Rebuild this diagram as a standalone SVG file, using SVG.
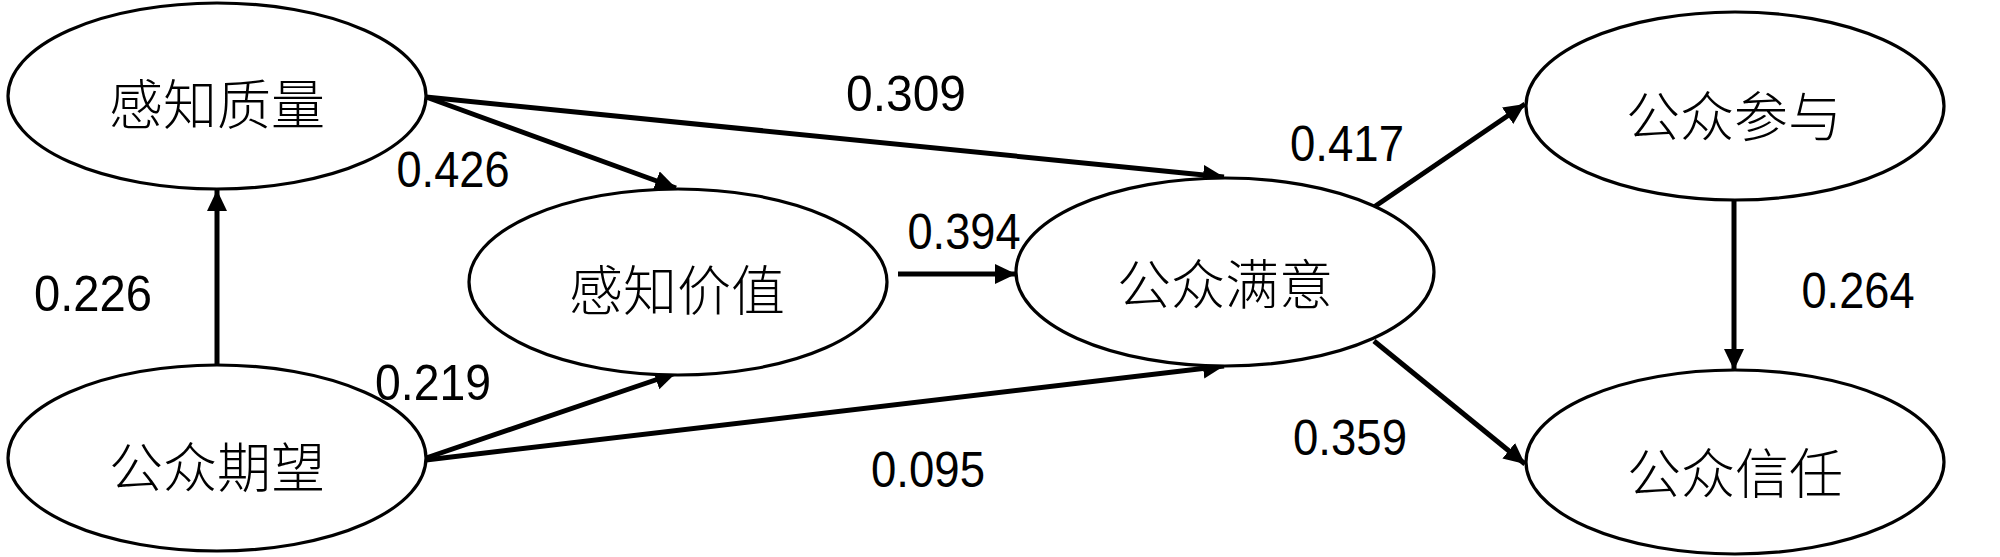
<svg xmlns="http://www.w3.org/2000/svg" width="2000" height="557" viewBox="0 0 2000 557">
<style>
.node ellipse{fill:#fff;stroke:#000;stroke-width:3.2}
.node text{font-family:"Noto Sans CJK SC","Noto Sans CJK JP",sans-serif;font-size:54px;font-weight:300;fill:#000;text-anchor:middle;dominant-baseline:central}
.edge{stroke:#000;stroke-width:5;fill:none;marker-end:url(#ah)}
.lbl{font-family:"Liberation Sans",Arial,sans-serif;font-size:50px;fill:#000;text-anchor:middle}
</style>
<defs>
<marker id="ah" markerUnits="userSpaceOnUse" markerWidth="24" markerHeight="22" refX="21" refY="10" orient="auto">
<path d="M0,0 L21,10 L0,20 z" fill="#000"/>
</marker>
</defs>
<g id="connectors">
<line class="edge" x1="426" y1="97" x2="676" y2="188"/>
<line class="edge" x1="426" y1="97" x2="1224" y2="177"/>
<line class="edge" x1="217" y1="365" x2="217" y2="190"/>
<line class="edge" x1="426" y1="458" x2="676" y2="373"/>
<line class="edge" x1="426" y1="460" x2="1224" y2="366"/>
<line class="edge" x1="898" y1="274" x2="1016" y2="274"/>
<line class="edge" x1="1374" y1="207" x2="1525" y2="104"/>
<line class="edge" x1="1374" y1="341" x2="1525" y2="464"/>
<line class="edge" x1="1734" y1="200" x2="1734" y2="370"/>
</g>
<g id="labels">
<text class="lbl" x="906" y="111" textLength="120" lengthAdjust="spacingAndGlyphs">0.309</text>
<text class="lbl" x="453" y="187" textLength="113" lengthAdjust="spacingAndGlyphs">0.426</text>
<text class="lbl" x="93" y="311" textLength="118" lengthAdjust="spacingAndGlyphs">0.226</text>
<text class="lbl" x="433" y="400" textLength="116" lengthAdjust="spacingAndGlyphs">0.219</text>
<text class="lbl" x="928" y="487" textLength="114" lengthAdjust="spacingAndGlyphs">0.095</text>
<text class="lbl" x="964" y="249" textLength="113" lengthAdjust="spacingAndGlyphs">0.394</text>
<text class="lbl" x="1347" y="161" textLength="114" lengthAdjust="spacingAndGlyphs">0.417</text>
<text class="lbl" x="1350" y="455" textLength="114" lengthAdjust="spacingAndGlyphs">0.359</text>
<text class="lbl" x="1858" y="308" textLength="113" lengthAdjust="spacingAndGlyphs">0.264</text>
</g>
<g id="n1" class="node"><ellipse cx="217" cy="96" rx="209" ry="93"/><text x="217" y="101">感知质量</text></g>
<g id="n2" class="node"><ellipse cx="217" cy="458" rx="209" ry="93"/><text x="217" y="464">公众期望</text></g>
<g id="n3" class="node"><ellipse cx="678" cy="282" rx="209" ry="93"/><text x="677" y="287">感知价值</text></g>
<g id="n4" class="node"><ellipse cx="1225" cy="272" rx="209" ry="94"/><text x="1225" y="281">公众满意</text></g>
<g id="n5" class="node"><ellipse cx="1735" cy="106" rx="209" ry="94"/><text x="1734" y="113">公众参与</text></g>
<g id="n6" class="node"><ellipse cx="1735" cy="462" rx="209" ry="92"/><text x="1735" y="470">公众信任</text></g>
</svg>
